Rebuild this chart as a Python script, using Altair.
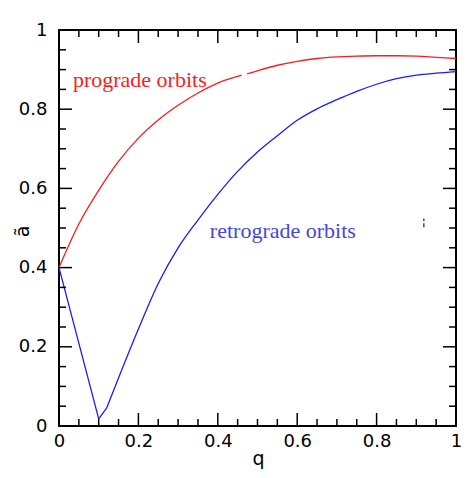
import altair as alt
import pandas as pd

# prograde curve (red), two pieces with a small gap
pro_q1 = [0, 0.05, 0.1, 0.15, 0.2, 0.25, 0.3, 0.35, 0.4, 0.45, 0.46]
pro_a1 = [0.40, 0.51, 0.595, 0.668, 0.727, 0.773, 0.81, 0.841, 0.866, 0.883, 0.886]
pro_q2 = [0.474, 0.5, 0.55, 0.6, 0.65, 0.7, 0.75, 0.8, 0.85, 0.9, 0.95, 1.0]
pro_a2 = [0.889, 0.897, 0.911, 0.921, 0.928, 0.932, 0.934, 0.935, 0.935, 0.934, 0.931, 0.928]

# retrograde curve (blue): straight V part, then smooth rise
ret_q1 = [0, 0.1, 0.12]
ret_a1 = [0.40, 0.018, 0.045]
ret_q2 = [0.12, 0.2, 0.25, 0.3, 0.35, 0.4, 0.45, 0.5, 0.55, 0.6, 0.65, 0.7, 0.75, 0.8, 0.85, 0.9, 0.95, 1.0]
ret_a2 = [0.045, 0.245, 0.36, 0.45, 0.52, 0.585, 0.643, 0.692, 0.733, 0.772, 0.801, 0.824, 0.845, 0.863, 0.877, 0.886, 0.891, 0.895]

# stray blue dash
dash_q = [0.919]
dash_a1 = [0.502]
dash_a2 = [0.524]

# labels
lab_text = ["prograde orbits", "retrograde orbits"]
lab_q = [0.035, 0.38]
lab_a = [0.856, 0.475]
lab_col = ["#ff1a1a", "#4646dc"]

# ticks
tick_labels = [0, 0.2, 0.4, 0.6, 0.8, 1]
minor_ticks = [0.05, 0.1, 0.15, 0.25, 0.3, 0.35, 0.45, 0.5, 0.55,
               0.65, 0.7, 0.75, 0.85, 0.9, 0.95]

W, H = 397, 396
MAJ, MIN = 13, 7

xs = alt.Scale(domain=[0, 1], nice=False, zero=False)
ys = alt.Scale(domain=[0, 1], nice=False, zero=False)

LEXPR = "datum.value == 0 || datum.value == 1 ? format(datum.value, 'd') : format(datum.value, '.1f')"
xax = alt.Axis(values=tick_labels, labelExpr=LEXPR,
               title="q", titleFont="DejaVu Sans", titleFontSize=19, titleFontWeight="normal",
               titleX=199, titleY=38, titleBaseline="alphabetic", titleAnchor="middle",
               labelPadding=6, labelFlush=False, ticks=False, domain=False, grid=False)
yax = alt.Axis(values=tick_labels, labelExpr=LEXPR,
               title="ã", titleFont="DejaVu Sans", titleFontSize=19, titleFontWeight="normal",
               titleX=-37, titleY=201, titleAngle=-90, titleBaseline="middle", titleAnchor="middle",
               labelPadding=12, labelFlush=False, ticks=False, domain=False, grid=False)

X = alt.X("q:Q", scale=xs, axis=xax)
Y = alt.Y("a:Q", scale=ys, axis=yax)


def seg_df(q, a):
    return pd.DataFrame({"q": q, "a": a})


def line(q, a, color, interp):
    return alt.Chart(seg_df(q, a)).mark_line(color=color, strokeWidth=1.3, interpolate=interp).encode(x=X, y=Y)


pro1 = line(pro_q1, pro_a1, "#ff1a1a", "monotone")
pro2 = line(pro_q2, pro_a2, "#ff1a1a", "monotone")
ret1 = line(ret_q1, ret_a1, "#1a1aff", "linear")
ret2 = line(ret_q2, ret_a2, "#1a1aff", "monotone")

dash = alt.Chart(pd.DataFrame({"q": dash_q, "a": dash_a1, "a2": dash_a2})).mark_rule(
    color="#1a1aff", strokeWidth=1.3, strokeDash=[4, 2]).encode(x=X, y=Y, y2="a2:Q")

labels = alt.Chart(pd.DataFrame({"q": lab_q, "a": lab_a, "t": lab_text, "c": lab_col})).mark_text(
    font="Liberation Serif", fontSize=22, align="left", baseline="alphabetic").encode(
    x=X, y=Y, text="t:N", color=alt.Color("c:N", scale=None),
)


def xticks(vals, L):
    df = pd.DataFrame({"q": vals})
    bot = alt.Chart(df).mark_rule(color="black", strokeWidth=1.5).encode(
        x=X, y=alt.value(H), y2=alt.value(H - L))
    top = alt.Chart(df).mark_rule(color="black", strokeWidth=1.5).encode(
        x=X, y=alt.value(0), y2=alt.value(L))
    return [bot, top]


def yticks(vals, L):
    df = pd.DataFrame({"a": vals})
    left = alt.Chart(df).mark_rule(color="black", strokeWidth=1.5).encode(
        y=Y, x=alt.value(0), x2=alt.value(L))
    right = alt.Chart(df).mark_rule(color="black", strokeWidth=1.5).encode(
        y=Y, x=alt.value(W), x2=alt.value(W - L))
    return [left, right]


ticks = xticks(tick_labels, MAJ) + xticks(minor_ticks, MIN) + yticks(tick_labels, MAJ) + yticks(minor_ticks, MIN)

chart = alt.layer(pro1, pro2, ret1, ret2, dash, labels, *ticks).properties(
    width=W, height=H,
    autosize=alt.AutoSizeParams(type="none"),
    padding={"left": 51, "top": 22, "right": 10, "bottom": 44},
    background="white",
).configure_view(
    stroke="black", strokeWidth=2
).configure_axis(
    labelFont="DejaVu Sans", labelFontSize=18, labelColor="black",
    titleColor="black",
)

chart.save("out.html", embed_options={"renderer": "svg", "actions": False})
